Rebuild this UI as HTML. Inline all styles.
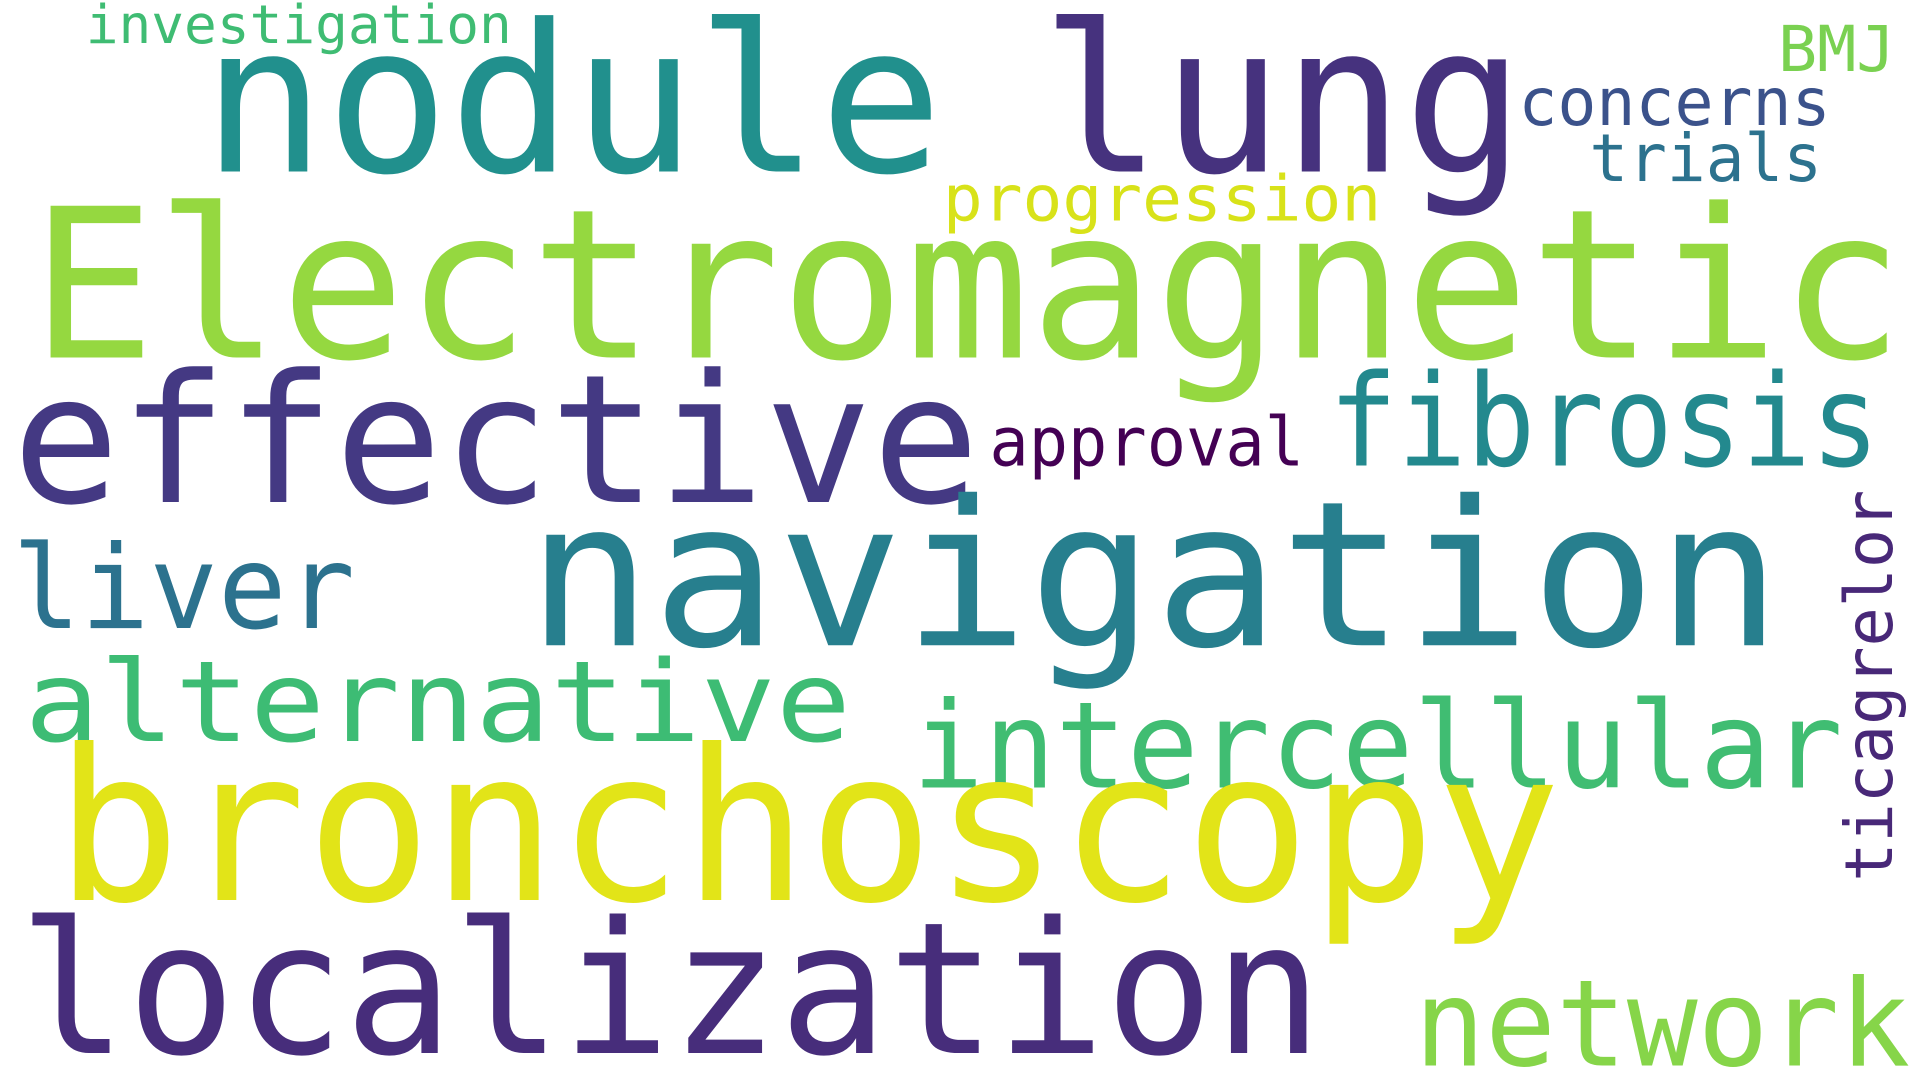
<!DOCTYPE html>
<html><head><meta charset="utf-8"><style>
html,body{margin:0;padding:0;background:#fff;width:1920px;height:1080px;overflow:hidden}
svg{display:block}
text{font-family:"DejaVu Sans Mono","Liberation Mono",monospace}
</style></head><body>
<svg width="1920" height="1080" viewBox="0 0 1568 882" xmlns="http://www.w3.org/2000/svg">
<rect width="1568" height="882" fill="#fff"/>
<g lengthAdjust="spacingAndGlyphs">
<text x="70" y="35" font-size="44" fill="#3fbc73" textLength="348" lengthAdjust="spacingAndGlyphs">investigation</text>
<text x="165" y="140" font-size="168" fill="#21908d" textLength="605" lengthAdjust="spacingAndGlyphs">nodule</text>
<text x="850" y="140" font-size="168" fill="#46327e" textLength="395" lengthAdjust="spacingAndGlyphs">lung</text>
<text x="1452" y="58" font-size="52" fill="#7ad151" textLength="96" lengthAdjust="spacingAndGlyphs">BMJ</text>
<text x="1240" y="102" font-size="54" fill="#3b528b" textLength="255" lengthAdjust="spacingAndGlyphs">concerns</text>
<text x="1298" y="148" font-size="54" fill="#2c728e" textLength="190" lengthAdjust="spacingAndGlyphs">trials</text>
<text x="770" y="180" font-size="52" fill="#d8e219" textLength="358" lengthAdjust="spacingAndGlyphs">progression</text>
<text x="25" y="292" font-size="170" fill="#95d840" textLength="1530" lengthAdjust="spacingAndGlyphs">Electromagnetic</text>
<text x="10" y="410" font-size="146" fill="#443983" textLength="790" lengthAdjust="spacingAndGlyphs">effective</text>
<text x="808" y="380" font-size="55" fill="#440154" textLength="257" lengthAdjust="spacingAndGlyphs">approval</text>
<text x="1085" y="380" font-size="104" fill="#23898e" textLength="450" lengthAdjust="spacingAndGlyphs">fibrosis</text>
<text x="430" y="527" font-size="165" fill="#277f8e" textLength="1025" lengthAdjust="spacingAndGlyphs">navigation</text>
<text x="10" y="513" font-size="95" fill="#2c728e" textLength="280" lengthAdjust="spacingAndGlyphs">liver</text>
<text x="20" y="605" font-size="92" fill="#3dbc74" textLength="675" lengthAdjust="spacingAndGlyphs">alternative</text>
<text x="745" y="643" font-size="98" fill="#40bd72" textLength="760" lengthAdjust="spacingAndGlyphs">intercellular</text>
<text transform="translate(1545,720) rotate(-90)" x="0" y="0" font-size="54" fill="#482878" textLength="320" lengthAdjust="spacingAndGlyphs">ticagrelor</text>
<text x="45" y="735" font-size="172" fill="#e2e418" textLength="1230" lengthAdjust="spacingAndGlyphs">bronchoscopy</text>
<text x="15" y="860" font-size="150" fill="#472d7b" textLength="1065" lengthAdjust="spacingAndGlyphs">localization</text>
<text x="1155" y="870" font-size="98" fill="#86d549" textLength="405" lengthAdjust="spacingAndGlyphs">network</text>
</g>
</svg>
</body></html>
